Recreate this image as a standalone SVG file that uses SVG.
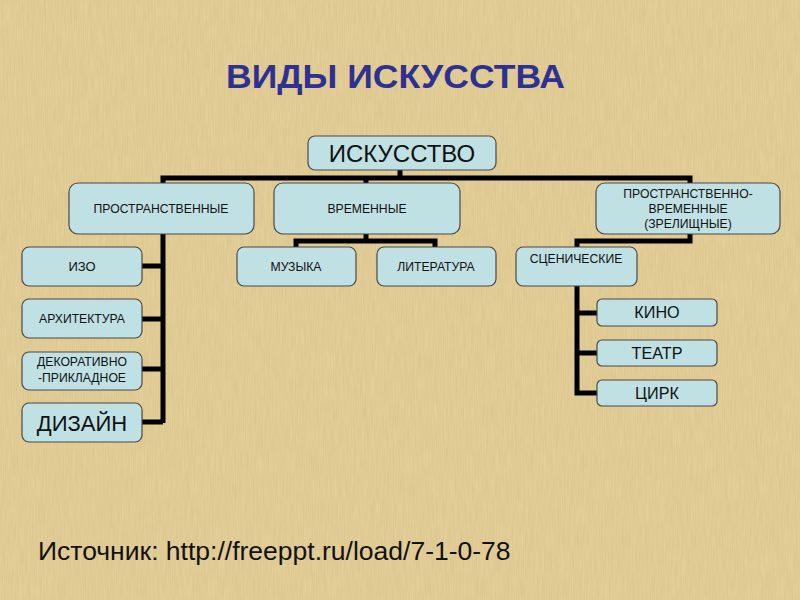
<svg xmlns="http://www.w3.org/2000/svg" width="800" height="600" viewBox="0 0 800 600">
<defs>
<filter id="paper" x="0" y="0" width="100%" height="100%">
<feTurbulence type="fractalNoise" baseFrequency="0.9 0.04" numOctaves="3" seed="4" result="n"/>
<feColorMatrix type="matrix" values="0 0 0 0 0.55  0 0 0 0 0.42  0 0 0 0 0.2  0 0 0 0.4 0" in="n" result="c"/>
<feComposite in="c" in2="SourceGraphic" operator="in"/>
</filter>
<style>
.box{fill:#c0e1e4;stroke:#4a4a4a;stroke-width:1.2}
.ln{fill:none;stroke:#000;stroke-width:5;stroke-linejoin:miter}
text{font-family:"Liberation Sans",Arial,sans-serif;fill:#111;text-anchor:middle}
.s{font-size:12.2px}
.m{font-size:16.2px}
</style>
</defs>
<rect width="800" height="600" fill="#e8d29a"/>
<rect width="800" height="600" fill="#fff" filter="url(#paper)"/>
<text x="395.5" y="88" textLength="339" lengthAdjust="spacingAndGlyphs" style="font-size:33px;font-weight:bold;fill:#2e3192">ВИДЫ ИСКУССТВА</text>
<g id="connectors">
<path class="ln" d="M400 170V178M163 184V178H690V184M366 178V184"/>
<path class="ln" d="M163 234V423M142 266H163M142 319H163M142 369H163M142 422H163"/>
<path class="ln" d="M366 234V241M296 247V241H435V247"/>
<path class="ln" d="M690 234V241H577V247M577 286V393H597M577 313H597M577 353H597"/>
</g>
<g id="n-art"><rect class="box" x="308" y="136" width="188" height="34" rx="7"/><text x="402" y="162" style="font-size:24px">ИСКУССТВО</text></g>
<g id="n-spatial"><rect class="box" x="69" y="183" width="185" height="51" rx="9"/><text class="s" x="161" y="213">ПРОСТРАНСТВЕННЫЕ</text></g>
<g id="n-temporal"><rect class="box" x="274" y="183" width="186" height="51" rx="9"/><text class="s" x="367" y="213">ВРЕМЕННЫЕ</text></g>
<g id="n-spatiotemporal"><rect class="box" x="596" y="183" width="184" height="51" rx="9"/><text class="s" x="688" y="198">ПРОСТРАНСТВЕННО-</text><text class="s" x="688" y="213">ВРЕМЕННЫЕ</text><text class="s" x="688" y="228">(ЗРЕЛИЩНЫЕ)</text></g>
<g id="n-izo"><rect class="box" x="22" y="247" width="120" height="39" rx="7"/><text x="82" y="271" style="font-size:13px">ИЗО</text></g>
<g id="n-arch"><rect class="box" x="22" y="299" width="120" height="39" rx="7"/><text class="s" x="82" y="323">АРХИТЕКТУРА</text></g>
<g id="n-deco"><rect class="box" x="22" y="352" width="120" height="38" rx="7"/><text class="s" x="82" y="366">ДЕКОРАТИВНО</text><text class="s" x="82" y="382">-ПРИКЛАДНОЕ</text></g>
<g id="n-design"><rect class="box" x="22" y="403" width="120" height="39" rx="7"/><text x="82" y="431" style="font-size:22px">ДИЗАЙН</text></g>
<g id="n-music"><rect class="box" x="237" y="247" width="119" height="39" rx="7"/><text class="s" x="296" y="271">МУЗЫКА</text></g>
<g id="n-lit"><rect class="box" x="377" y="247" width="119" height="39" rx="7"/><text class="s" x="436" y="271">ЛИТЕРАТУРА</text></g>
<g id="n-stage"><rect class="box" x="516" y="247" width="121" height="39" rx="7"/><text class="s" x="576" y="263">СЦЕНИЧЕСКИЕ</text></g>
<g id="n-cinema"><rect class="box" x="597" y="299" width="120" height="27" rx="5"/><text class="m" x="657" y="318">КИНО</text></g>
<g id="n-theatre"><rect class="box" x="597" y="340" width="120" height="26" rx="5"/><text class="m" x="657" y="359">ТЕАТР</text></g>
<g id="n-circus"><rect class="box" x="597" y="380" width="120" height="26" rx="5"/><text class="m" x="657" y="399">ЦИРК</text></g>
<text x="38" y="560" style="font-size:26.5px;text-anchor:start">Источник: http://freeppt.ru/load/7-1-0-78</text>
</svg>
